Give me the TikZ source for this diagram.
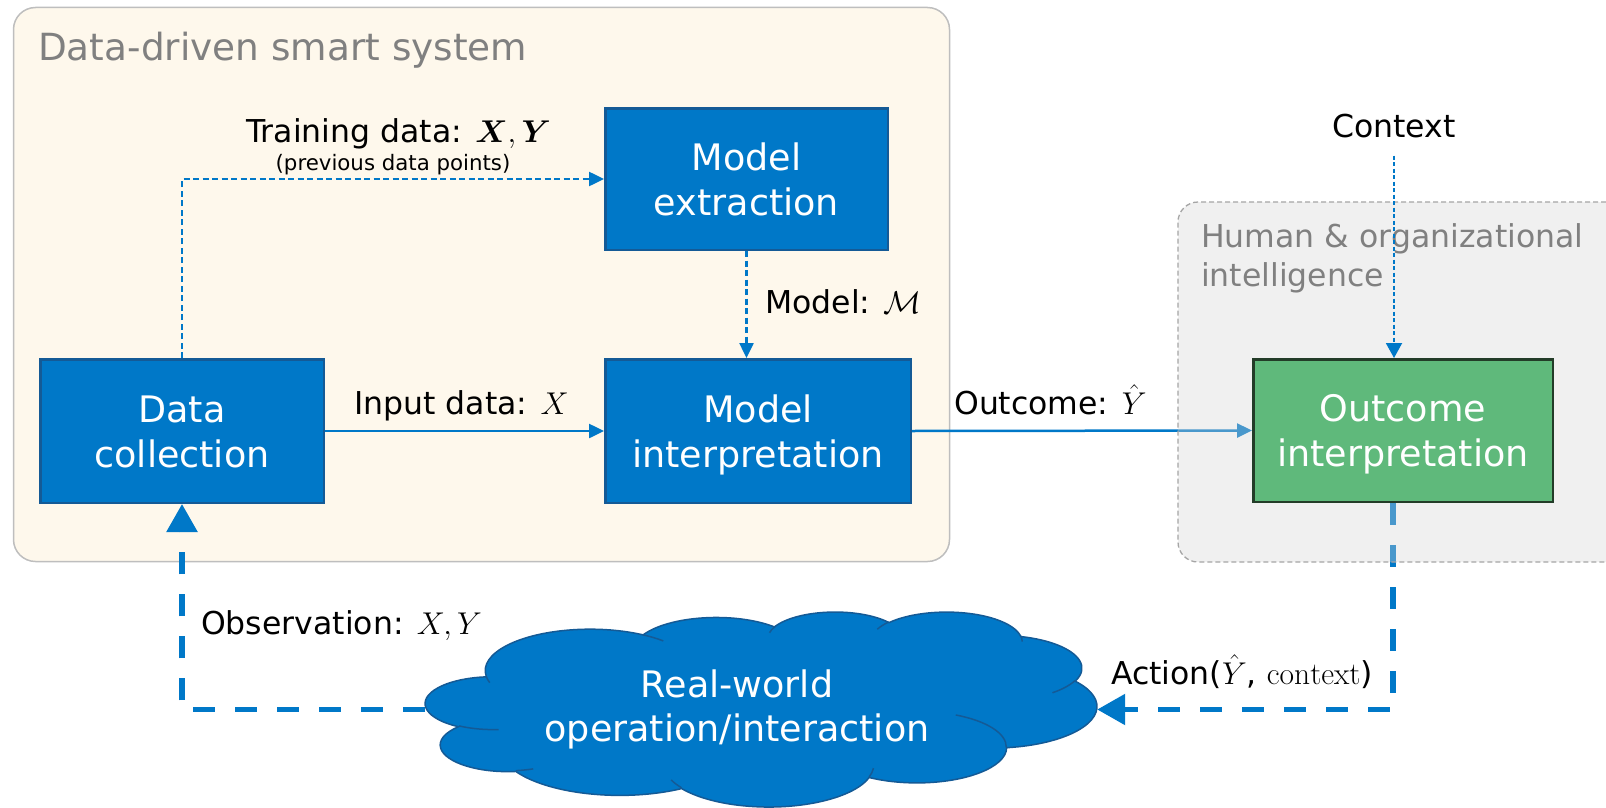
\RequirePackage{fix-cm}
\documentclass[tikz,border=0pt]{standalone}
\usepackage{amsmath}
\usepackage{fontspec}
\newfontfamily\verd{DejaVu Sans}
\usetikzlibrary{arrows.meta}

\definecolor{boxblue}{RGB}{0,120,200}
\definecolor{boxedge}{RGB}{20,90,150}
\definecolor{sysfill}{RGB}{254,248,236}
\definecolor{sysedge}{RGB}{190,190,190}
\definecolor{hazefill}{RGB}{212,212,212}
\definecolor{hazeedge}{RGB}{165,165,165}
\definecolor{titlegray}{RGB}{128,128,128}
\definecolor{okgreen}{RGB}{95,185,123}
\definecolor{okedge}{RGB}{35,60,40}

% two-line box caption with even vertical placement
\newcommand\boxlines[2]{\rule{0pt}{0.76em}#1\\\smash[b]{#2}}

\pgfdeclarelayer{sysbg}
\pgfdeclarelayer{under}
\pgfdeclarelayer{haze}
\pgfsetlayers{sysbg,under,haze,main}

\begin{document}
\begin{tikzpicture}[x=1pt,y=-1pt,
  blk/.style={draw=boxedge, line width=2.5pt, fill=boxblue, text=white,
    align=center, inner sep=0pt, font=\verd\fontsize{36.5}{45}\selectfont},
  okblk/.style={blk, draw=okedge, fill=okgreen},
  lbl/.style={inner sep=0pt, font=\verd\fontsize{31.5}{39}\selectfont},
  sublbl/.style={inner sep=0pt, font=\verd\fontsize{21.3}{26}\selectfont},
  grouptitle/.style={inner sep=0pt, text=titlegray},
  flow/.style={draw=boxblue, line width=2.5pt, -{Triangle[length=15pt,width=14pt]}},
  dflow/.style={flow, dash pattern=on 6pt off 3.5pt},
  ctxflow/.style={draw=boxblue, line width=2pt, dash pattern=on 4pt off 2.5pt,
    -{Triangle[length=15pt,width=16pt]}},
  loopflow/.style={draw=boxblue, line width=5.5pt, dash pattern=on 22pt off 20pt,
    -{Triangle[length=28pt,width=30pt]}},
  cloudline/.style={draw=boxedge, line width=1.5pt},
]
\useasboundingbox (0,0) rectangle (1606,808);

% ---- smart system container ----
\begin{pgfonlayer}{sysbg}
  \node[draw=sysedge, fill=sysfill, line width=1.5pt, rounded corners=22pt,
        minimum width=936pt, minimum height=554pt, inner sep=0pt] (sys) at (481.5,284.5) {};
  \node[grouptitle, anchor=base west, font=\verd\fontsize{37.4}{45}\selectfont]
        (systitle) at (38,60) {Data-driven smart system};
\end{pgfonlayer}

% ---- process boxes ----
\node[blk, minimum width=283.5pt, minimum height=143.5pt] (dc) at (182,431) {\boxlines{Data}{collection}};
\node[blk, minimum width=282.5pt, minimum height=141.5pt] (me) at (746.5,179) {\boxlines{Model}{extraction}};
\node[blk, minimum width=305.5pt, minimum height=143.5pt] (mi) at (758,431) {\boxlines{Model}{interpretation}};
\node[okblk, minimum width=299.5pt, minimum height=142.5pt] (oi) at (1403,430.5) {\boxlines{Outcome}{interpretation}};

% ---- real-world cloud ----
\node[minimum width=672pt, minimum height=196pt, inner sep=0pt] (rw) at (761,709.5) {};
\begin{scope}[shift={(425.6,611.4)}, x=1.5534pt, y=-0.4512pt]
  \path[cloudline, fill=boxblue] (39.00,143.70)
    arc[start angle=172.25,  delta angle=128.11, x radius=67.53, y radius=91.90]
    arc[start angle=-152.02, delta angle=106.58, x radius=53.33, y radius=72.67]
    arc[start angle=-153.49, delta angle=116.19, x radius=43.65, y radius=59.45]
    arc[start angle=-139.72, delta angle=129.50, x radius=48.57, y radius=65.95]
    arc[start angle=-74.77,  delta angle=97.98,  x radius=53.33, y radius=72.73]
    arc[start angle=-37.54,  delta angle=119.40, x radius=67.75, y radius=92.20]
    arc[start angle=0.46,    delta angle=121.53, x radius=57.85, y radius=78.67]
    arc[start angle=16.85,   delta angle=129.37, x radius=67.52, y radius=92.15]
    arc[start angle=58.97,   delta angle=91.22,  x radius=77.20, y radius=105.43]
    arc[start angle=83.31,   delta angle=139.79, x radius=43.60, y radius=59.18]
    arc[start angle=120.35,  delta angle=143.76, x radius=43.45, y radius=59.45]
    -- cycle;
  % inner creases of the puffs
  \path[cloudline]
    (46.93,261.77)  arc[start angle=85.54,   delta angle=34.81, x radius=43.45, y radius=59.45]
    (69.28,348.99)  arc[start angle=68.23,   delta angle=15.08, x radius=43.60, y radius=59.18]
    (164.78,390.90) arc[start angle=146.22,  delta angle=12.25, x radius=67.52, y radius=92.15]
    (288.27,347.51) arc[start angle=4.73,    delta angle=12.12, x radius=67.52, y radius=92.15]
    (341.29,229.54) arc[start angle=-64.03,  delta angle=64.49, x radius=57.85, y radius=78.67]
    (417.98,153.54) arc[start angle=23.21,   delta angle=26.43, x radius=53.33, y radius=72.73]
    (383.24,54.26)  arc[start angle=-10.22,  delta angle=11.05, x radius=48.57, y radius=65.95]
    (290.78,39.52)  arc[start angle=-156.29, delta angle=16.57, x radius=48.57, y radius=65.95]
    (221.41,47.20)  arc[start angle=-167.72, delta angle=14.23, x radius=43.65, y radius=59.45]
    (140.00,51.92)  arc[start angle=-59.64,  delta angle=13.89, x radius=67.53, y radius=91.90]
    (41.27,157.89)  arc[start angle=163.19,  delta angle=9.06,  x radius=67.53, y radius=91.90];
\end{scope}
\node[inner sep=0pt, align=center, text=white, font=\verd\fontsize{36.5}{44}\selectfont]
  (rwtext) at (737,709.4) {Real-world\\operation/interaction};

% ---- connectors passing under the human layer ----
\begin{pgfonlayer}{under}
  \draw[flow] (mi.east) -- (oi.west);
  \draw[loopflow] ([xshift=-10pt]oi.south) |- (rw.east);
\end{pgfonlayer}

% ---- human & organizational intelligence container ----
\begin{pgfonlayer}{haze}
  \node[draw=hazeedge, fill=hazefill, fill opacity=0.35, draw opacity=1,
        line width=1.3pt, dash pattern=on 5pt off 3pt, rounded corners=20pt,
        minimum width=472pt, minimum height=360pt, inner sep=0pt] (hoi) at (1414,382) {};
  \node[lbl, grouptitle, align=left, anchor=west] (hoititle) at (1201,258.2)
        {Human \& organizational\\intelligence};
\end{pgfonlayer}

% ---- connectors ----
\draw[dflow] (dc.north) |- (me.west);
\draw[dflow] (me.south) -- (me.south |- mi.north);
\draw[flow] (dc.east) -- (mi.west);
\draw[loopflow] (rw.west) -| (dc.south);

% ---- labels ----
\node[lbl, anchor=base west] (trainlbl) at (246,142.5) {Training data: $\boldsymbol{X},\boldsymbol{Y}$};
\node[sublbl, anchor=base] (trainsub) at (393,170) {(previous data points)};
\node[lbl, anchor=base west] (modellbl) at (765,313) {Model: $\mathcal{M}$};
\node[lbl, anchor=base west] (inlbl) at (354,414.5) {Input data: $X$};
\node[lbl, anchor=base west] (outlbl) at (954,414) {Outcome: $\hat{Y}$};
\node[lbl, anchor=base] (ctx) at (1394,137) {Context};
\node[lbl, anchor=base west] (obslbl) at (201,634) {Observation: $X,Y$};
\node[lbl, anchor=base west] (actlbl) at (1111,684) {Action($\hat{Y}$, $\mathrm{context}$)};

\draw[ctxflow] ([yshift=-18pt]ctx.south) -- (ctx.south |- oi.north);
\end{tikzpicture}
\end{document}
